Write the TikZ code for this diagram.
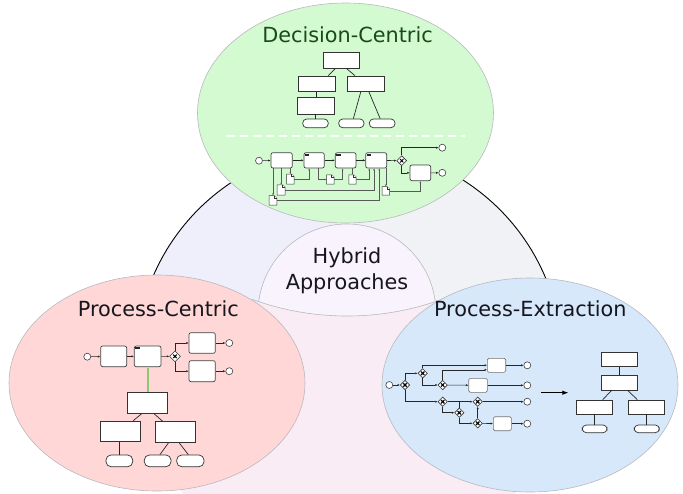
\documentclass[tikz,border=0pt]{standalone}
\usepackage{fontspec}
\setmainfont{DejaVu Sans}
\usetikzlibrary{arrows.meta,shapes.geometric,fit}
\definecolor{greenfill}{RGB}{212,250,210}
\definecolor{pinkfill}{RGB}{255,215,215}
\definecolor{bluefill}{RGB}{214,232,250}
\definecolor{lavfill}{RGB}{239,238,251}
\definecolor{greyfill}{RGB}{241,242,245}
\definecolor{botfill}{RGB}{250,236,244}
\definecolor{lensfill}{RGB}{248,243,252}
\definecolor{dcgreen}{RGB}{25,75,25}
\definecolor{txt}{RGB}{22,22,30}
\definecolor{edgegrey}{RGB}{185,185,190}
\definecolor{linkgreen}{RGB}{140,200,115}
\newcommand{\docicon}[1]{%
  \filldraw[docf] (#1.south west) -- (#1.north west) -- ([xshift=-2.5pt]#1.north east) -- ([yshift=-2.5pt]#1.north east) -- (#1.south east) -- cycle;
  \draw[docf] ([xshift=-2.5pt]#1.north east) |- ([yshift=-2.5pt]#1.north east);}
\newcommand{\gwx}[2]{%
  \draw[line width=#2] ([shift={(-1.7,-1.7)}]#1.center) -- ([shift={(1.7,1.7)}]#1.center)
    ([shift={(-1.7,1.7)}]#1.center) -- ([shift={(1.7,-1.7)}]#1.center);}
\newcommand{\tmark}[1]{\fill[black!85] ([shift={(1.3,1.3)}]#1.north west) rectangle ++(4.5,2.5);}
\begin{document}
\begin{tikzpicture}[x=1pt,y=-1pt,
  box/.style={draw=black!80, fill=white, line width=0.7pt, inner sep=0pt, rectangle},
  pill/.style={box, rounded corners=4pt},
  task/.style={draw=black!75, fill=white, line width=0.7pt, inner sep=0pt, rounded corners=2pt},
  xtask/.style={draw=black!55, fill=white, line width=0.6pt, inner sep=0pt, rounded corners=1.5pt},
  ev/.style={circle, draw=black!75, fill=white, line width=0.6pt, minimum size=7pt, inner sep=0pt},
  gw/.style={diamond, draw=black!80, fill=white, line width=0.6pt, minimum size=10pt, inner sep=0pt},
  flow/.style={draw=black!85, line width=0.6pt, -{Latex[length=2.4pt,width=2.2pt]}},
  plain/.style={draw=black!85, line width=0.6pt},
  assoc/.style={draw=black!65, line width=0.5pt, -{Latex[length=2pt,width=1.8pt]}},
  tl/.style={draw=black!85, line width=0.7pt},
  docf/.style={draw=black!80, fill=white, line width=0.5pt},
  ttl/.style={font=\fontsize{20.8}{26}\selectfont, inner sep=0pt, text=txt},
  ell/.style={draw=edgegrey, line width=0.6pt}]
\useasboundingbox (0,0) rectangle (683,493);
\fill[white] (0,0) rectangle (683,493);
% big circle sectors
\begin{scope}
  \clip (349,360) circle (213);
  \fill[botfill] (349,360) circle (213);
  \fill[lavfill] (100,100) rectangle (259,420);
  \fill[greyfill] (437,100) rectangle (620,420);
  \begin{scope}
    \clip (347,39) circle (277);
    \fill[lavfill] (258,100) rectangle (348,400);
    \fill[greyfill] (348,100) rectangle (438,400);
  \end{scope}
\end{scope}
% lens
\begin{scope}
  \clip (347,39) circle (277);
  \fill[lensfill] (347,313) circle (89);
  \draw[ell] (347,313) circle (89);
\end{scope}
\begin{scope}
  \clip (252,280) rectangle (442,330);
  \draw[ell] (347,39) circle (277);
\end{scope}
\begin{scope}
  \clip (0,0) rectangle (683,330);
  \draw[black, line width=0.9pt] (349,360) circle (213);
\end{scope}
% ellipses
\filldraw[ell, fill=greenfill] (345.5,113) ellipse [x radius=148, y radius=110];
\filldraw[ell, fill=pinkfill] (157,383) ellipse [x radius=148, y radius=108];
\filldraw[ell, fill=bluefill] (530,385) ellipse [x radius=148, y radius=107];
% titles
\node[ttl, text=dcgreen, anchor=base] (tdc) at (347.5,42.7) {Decision-Centric};
\node[ttl, anchor=base] (tpc) at (158.3,316.7) {Process-Centric};
\node[ttl, anchor=base] (tpe) at (530.3,316.7) {Process-Extraction};
\node[ttl, align=center] (thy) at (347,271) {Hybrid\\Approaches};
% ---------- Decision-centric tree
\node[box, fit={(323,52.3)(359.3,68.3)}] (dc0) {};
\node[box, fit={(298.3,76)(335,91.7)}] (dc1) {};
\node[box, fit={(347.7,76)(384.3,91.7)}] (dc2) {};
\node[box, fit={(297.3,97.7)(334,114)}] (dc3) {};
\node[pill, fit={(302.7,119)(328.3,127.7)}] (dc4) {};
\node[pill, fit={(338.7,119)(364,127.7)}] (dc5) {};
\node[pill, fit={(369.3,119)(395,127.7)}] (dc6) {};
\draw[tl] ([xshift=-6pt]dc0.south) -- ([xshift=11.7pt]dc1.north);
\draw[tl] ([xshift=5.5pt]dc0.south) -- ([xshift=-11pt]dc2.north);
\draw[tl] (dc1.south) -- (dc1.south |- dc3.north);
\draw[tl] (dc3.south) -- (dc3.south |- dc4.north);
\draw[tl] ([xshift=-5.3pt]dc2.south) -- ([xshift=2pt]dc5.north);
\draw[tl] ([xshift=3pt]dc2.south) -- ([xshift=-2pt]dc6.north);
% dashed separator
\coordinate (sepa) at (226.7,136);
\coordinate (sepb) at (465,136);
\draw[white, line width=1.5pt, dash pattern=on 8pt off 5pt] (sepa) -- (sepb);
% ---------- Decision-centric process
\node[ev] (s1) at (259,160.7) {};
\node[task, fit={(271,152.7)(292.3,168)}] (t1) {};
\node[task, fit={(304,152.7)(324.3,168)}] (t2) {};
\node[task, fit={(335.3,152.7)(356,168)}] (t3) {};
\node[task, fit={(365.7,152.7)(386.7,168)}] (t4) {};
\tmark{t2}\tmark{t3}\tmark{t4}
\node[gw] (g1) at (401.7,160.7) {};
\gwx{g1}{0.9pt}
\node[task, fit={(410,165)(430.7,180.7)}] (t5) {};
\node[ev] (e1) at (442.3,147.7) {};
\node[ev] (e2) at (442.3,172.8) {};
\draw[flow] (s1) -- (t1);
\draw[flow] (t1) -- (t2);
\draw[flow] (t2) -- (t3);
\draw[flow] (t3) -- (t4);
\draw[flow] (t4) -- (g1);
\draw[flow] (g1.north) |- (e1);
\draw[flow] (g1.south) |- (t5.west);
\draw[flow] (t5) -- (e2);
\node[inner sep=0pt, fit={(286.7,174.3)(294,184)}] (d1) {};
\node[inner sep=0pt, fit={(277.3,185)(285,195)}] (d2) {};
\node[inner sep=0pt, fit={(269.3,195.7)(276.7,205)}] (d3) {};
\node[inner sep=0pt, fit={(326.7,175)(334,184)}] (d4) {};
\node[inner sep=0pt, fit={(349,175)(356,184)}] (d5) {};
\node[inner sep=0pt, fit={(382.3,186.7)(389.3,195)}] (d6) {};
\draw[assoc] (t1.south -| d1.north) -- (d1.north);
\draw[assoc] (t1.south -| d2.north) -- (d2.north);
\draw[assoc] (t1.south -| d3.north) -- (d3.north);
\draw[assoc] (d1.east) -| ([xshift=-5pt]t2.south);
\draw[assoc] ([xshift=4pt]t2.south) |- (d4.west);
\draw[assoc] (d4.east) -| ([xshift=-3pt]t3.south);
\draw[assoc] (t3.south -| d5.north) -- (d5.north);
\draw[assoc] (d5.east) -| ([xshift=-7pt]t4.south);
\draw[assoc] (d2.east) -| ([xshift=-2.2pt]t4.south);
\draw[assoc] (d3.east) -| ([xshift=3pt]t4.south);
\draw[assoc] (t4.south -| d6.north) -- (d6.north);
\draw[assoc] (d6.east) -| (t5.south);
\docicon{d1}\docicon{d2}\docicon{d3}\docicon{d4}\docicon{d5}\docicon{d6}
% ---------- Process-centric
\node[ev] (ps) at (87.3,356.7) {};
\node[task, fit={(100.7,346)(126.7,366.7)}] (pa) {};
\node[task, fit={(134.3,346)(161,366.7)}] (pb) {};
\tmark{pb}
\node[gw, minimum size=11pt] (pg) at (175,356.3) {};
\gwx{pg}{1.1pt}
\node[task, fit={(189,332.7)(215.3,353.3)}] (pu) {};
\node[task, fit={(189,360.7)(215.3,381.7)}] (pl) {};
\node[ev] (pe1) at (229.3,343) {};
\node[ev] (pe2) at (229.3,371.2) {};
\draw[flow] (ps) -- (pa);
\draw[flow] (pa) -- (pb);
\draw[flow] (pb) -- (pg);
\draw[flow] (pg.north) |- (pu.west);
\draw[flow] (pg.south) |- (pl.west);
\draw[flow] (pu) -- (pe1);
\draw[flow] (pl) -- (pe2);
\node[box, fit={(127.3,392.7)(167.7,413.3)}] (pt0) {};
\node[box, fit={(100.7,421)(140.7,441.7)}] (pt1) {};
\node[box, fit={(155,421.7)(195.7,442.7)}] (pt2) {};
\node[pill, rounded corners=5pt, fit={(106,455)(132.7,466.7)}] (po1) {};
\node[pill, rounded corners=5pt, fit={(144.3,455)(171,466.7)}] (po2) {};
\node[pill, rounded corners=5pt, fit={(176.7,455)(204,466.7)}] (po3) {};
\draw[linkgreen, line width=1.8pt] ([yshift=-0.5pt]pb.south) -- ([yshift=0.5pt]pb.south |- pt0.north);
\draw[tl] ([xshift=-5.8pt]pt0.south) -- ([xshift=12.6pt]pt1.north);
\draw[tl] ([xshift=6.5pt]pt0.south) -- ([xshift=-12.6pt]pt2.north);
\draw[tl] (pt1.south -| po1.north) -- (po1.north);
\draw[tl] ([xshift=-7pt]pt2.south) -- ([xshift=2.3pt]po2.north);
\draw[tl] ([xshift=4pt]pt2.south) -- ([xshift=-2pt]po3.north);
% ---------- Process-extraction
\node[ev] (xs) at (389.3,385) {};
\node[gw, minimum size=9.5pt] (xg1) at (405,385) {};
\node[gw, minimum size=9.5pt] (xg2) at (422.7,373.3) {};
\node[gw, minimum size=9.5pt] (xg3) at (442.7,385) {};
\node[gw, minimum size=9.5pt] (xg4) at (442.7,401.7) {};
\node[gw, minimum size=9.5pt] (xg5) at (459.3,412.7) {};
\node[gw, minimum size=9.5pt] (xg6) at (477.7,401.7) {};
\node[gw, minimum size=9.5pt] (xg7) at (477.7,423.3) {};
\foreach \g in {xg1,xg2,xg3,xg4,xg5,xg6,xg7}{\gwx{\g}{1.1pt}}
\node[xtask, fit={(487.3,358.3)(505.7,372.3)}] (xt1) {};
\node[xtask, fit={(468.7,378.3)(487.3,392.3)}] (xt2) {};
\node[xtask, fit={(493.3,416.7)(511.3,430.7)}] (xt3) {};
\node[ev] (xe1) at (527.3,365.3) {};
\node[ev] (xe2) at (527.3,385.3) {};
\node[ev] (xe3) at (527.3,401.7) {};
\node[ev] (xe4) at (527.3,423.7) {};
\draw[flow] (xs) -- (xg1);
\draw[flow] (xg1.north) |- (xg2.west);
\draw[flow] (xg1.south) |- (xg4.west);
\draw[flow] (xg2.north) |- (xt1.west);
\draw[flow] (xg3.north) |- ([yshift=-4.5pt]xt1.west);
\draw[flow] (xg2.south) |- (xg3.west);
\draw[flow] (xg3) -- (xt2);
\draw[flow] (xt2) -- (xe2);
\draw[flow] (xt1) -- (xe1);
\draw[flow] (xg4.south) |- (xg5.west);
\draw[flow] (xg4) -- (xg6);
\draw[plain] (xg5.north) -- (xg5.north |- xg6.west);
\draw[flow] (xg5.south) |- (xg7.west);
\draw[flow] (xg6) -- (xe3);
\draw[flow] (xg7) -- (xg6);
\draw[flow] (xg7) -- (xt3);
\draw[flow] (xt3) -- (xe4);
\coordinate (ar1) at (541,392.7);
\coordinate (ar2) at (568.3,392.7);
\draw[black, line width=0.8pt, -{Latex[length=6pt,width=4.5pt]}] (ar1) -- (ar2);
\node[box, fit={(601,352.7)(637.7,366.7)}] (xb0) {};
\node[box, fit={(601,375.7)(637.7,390)}] (xb1) {};
\node[box, fit={(576.7,400)(612.3,414)}] (xb2) {};
\node[box, fit={(628.3,400)(664.3,414)}] (xb3) {};
\node[pill, fit={(582.3,425)(607,432.7)}] (xo1) {};
\node[pill, fit={(634.3,425)(659.3,432.7)}] (xo2) {};
\draw[tl] (xb0.south) -- (xb1.north);
\draw[tl] ([xshift=-7.6pt]xb1.south) -- ([xshift=8.2pt]xb2.north);
\draw[tl] ([xshift=8.3pt]xb1.south) -- ([xshift=-9pt]xb3.north);
\draw[tl] (xb2.south) -- (xb2.south |- xo1.north);
\draw[tl] (xb3.south) -- (xb3.south |- xo2.north);
\end{tikzpicture}
\end{document}
